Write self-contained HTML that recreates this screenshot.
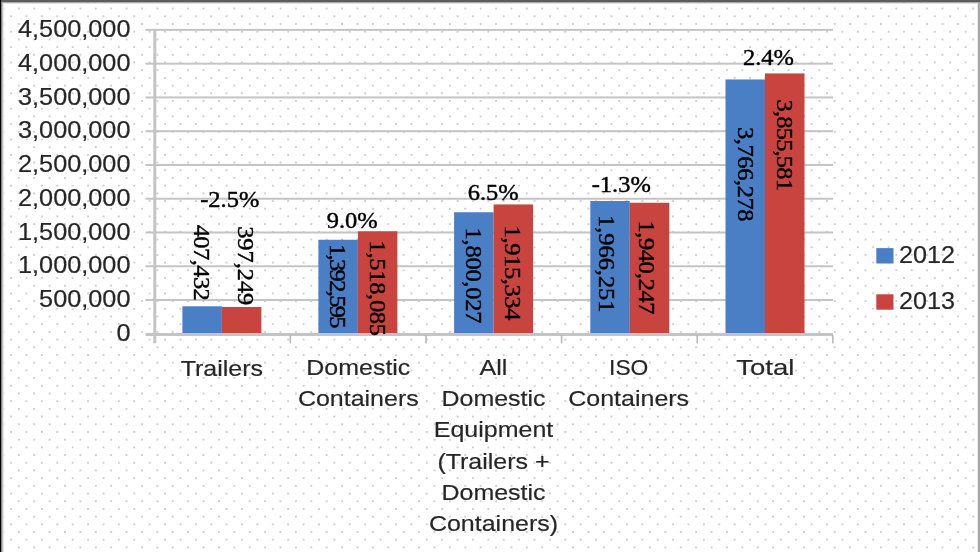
<!DOCTYPE html>
<html><head><meta charset="utf-8"><style>
html,body{margin:0;padding:0;width:980px;height:552px;overflow:hidden;background:#fff;}
svg{position:absolute;left:0;top:0;display:block;will-change:transform;}
</style></head><body>
<svg width="980" height="552" viewBox="0 0 980 552">
<defs><pattern id="dots" patternUnits="userSpaceOnUse" width="15.395" height="15.395" x="3.4" y="8.6">
<rect x="-0.8" y="-0.8" width="1.6" height="1.6" fill="#bababa"/>
<rect x="14.595" y="-0.8" width="1.6" height="1.6" fill="#bababa"/>
<rect x="-0.8" y="14.595" width="1.6" height="1.6" fill="#bababa"/>
<rect x="14.595" y="14.595" width="1.6" height="1.6" fill="#bababa"/>
<rect x="6.897" y="6.897" width="1.6" height="1.6" fill="#bababa"/>
</pattern></defs>
<rect x="0" y="0" width="980" height="552" fill="#fff"/>
<rect x="0" y="0" width="980" height="552" fill="url(#dots)"/>
<rect x="145.5" y="299.03" width="687.5" height="2" fill="#c4c4c4"/>
<rect x="145.5" y="265.27" width="687.5" height="2" fill="#c4c4c4"/>
<rect x="145.5" y="231.50" width="687.5" height="2" fill="#c4c4c4"/>
<rect x="145.5" y="197.73" width="687.5" height="2" fill="#c4c4c4"/>
<rect x="145.5" y="163.97" width="687.5" height="2" fill="#c4c4c4"/>
<rect x="145.5" y="130.20" width="687.5" height="2" fill="#c4c4c4"/>
<rect x="145.5" y="96.43" width="687.5" height="2" fill="#c4c4c4"/>
<rect x="145.5" y="62.67" width="687.5" height="2" fill="#c4c4c4"/>
<rect x="145.5" y="28.90" width="687.5" height="2" fill="#c4c4c4"/>
<text transform="translate(130.5,340.90) scale(1,0.93)" text-anchor="end" font-family='"Liberation Sans", sans-serif' font-size="25.3" fill="#262626" stroke="#262626" stroke-width="0.2">0</text>
<text transform="translate(130.5,307.13) scale(1,0.93)" text-anchor="end" font-family='"Liberation Sans", sans-serif' font-size="25.3" fill="#262626" stroke="#262626" stroke-width="0.2">500,000</text>
<text transform="translate(130.5,273.37) scale(1,0.93)" text-anchor="end" font-family='"Liberation Sans", sans-serif' font-size="25.3" fill="#262626" stroke="#262626" stroke-width="0.2">1,000,000</text>
<text transform="translate(130.5,239.60) scale(1,0.93)" text-anchor="end" font-family='"Liberation Sans", sans-serif' font-size="25.3" fill="#262626" stroke="#262626" stroke-width="0.2">1,500,000</text>
<text transform="translate(130.5,205.83) scale(1,0.93)" text-anchor="end" font-family='"Liberation Sans", sans-serif' font-size="25.3" fill="#262626" stroke="#262626" stroke-width="0.2">2,000,000</text>
<text transform="translate(130.5,172.07) scale(1,0.93)" text-anchor="end" font-family='"Liberation Sans", sans-serif' font-size="25.3" fill="#262626" stroke="#262626" stroke-width="0.2">2,500,000</text>
<text transform="translate(130.5,138.30) scale(1,0.93)" text-anchor="end" font-family='"Liberation Sans", sans-serif' font-size="25.3" fill="#262626" stroke="#262626" stroke-width="0.2">3,000,000</text>
<text transform="translate(130.5,104.53) scale(1,0.93)" text-anchor="end" font-family='"Liberation Sans", sans-serif' font-size="25.3" fill="#262626" stroke="#262626" stroke-width="0.2">3,500,000</text>
<text transform="translate(130.5,70.77) scale(1,0.93)" text-anchor="end" font-family='"Liberation Sans", sans-serif' font-size="25.3" fill="#262626" stroke="#262626" stroke-width="0.2">4,000,000</text>
<text transform="translate(130.5,37.00) scale(1,0.93)" text-anchor="end" font-family='"Liberation Sans", sans-serif' font-size="25.3" fill="#262626" stroke="#262626" stroke-width="0.2">4,500,000</text>
<rect x="182.40" y="306.28" width="39.5" height="27.52" fill="#4a7fc6"/>
<rect x="221.90" y="306.97" width="39.5" height="26.83" fill="#c9443f"/>
<rect x="318.40" y="239.75" width="39.5" height="94.05" fill="#4a7fc6"/>
<rect x="357.90" y="231.28" width="39.5" height="102.52" fill="#c9443f"/>
<rect x="454.10" y="212.24" width="39.5" height="121.56" fill="#4a7fc6"/>
<rect x="493.60" y="204.45" width="39.5" height="129.35" fill="#c9443f"/>
<rect x="590.30" y="201.01" width="39.5" height="132.79" fill="#4a7fc6"/>
<rect x="629.80" y="202.77" width="39.5" height="131.03" fill="#c9443f"/>
<rect x="725.50" y="79.45" width="39.5" height="254.35" fill="#4a7fc6"/>
<rect x="765.00" y="73.42" width="39.5" height="260.38" fill="#c9443f"/>
<rect x="153.3" y="28.9" width="3" height="314.40" fill="#c4c4c4"/>
<rect x="145.5" y="333.0" width="687.5" height="3" fill="#c4c4c4"/>
<rect x="289.54" y="335" width="1.6" height="8.5" fill="#b8b8b8"/>
<rect x="425.18" y="335" width="1.6" height="8.5" fill="#b8b8b8"/>
<rect x="560.82" y="335" width="1.6" height="8.5" fill="#b8b8b8"/>
<rect x="696.46" y="335" width="1.6" height="8.5" fill="#b8b8b8"/>
<rect x="832.10" y="335" width="1.6" height="8.5" fill="#b8b8b8"/>
<text transform="translate(193.75,262.75) rotate(90) scale(1,0.92)" text-anchor="middle" textLength="76.10" lengthAdjust="spacing" font-family='"Liberation Serif", serif' font-size="24.5" fill="#000" stroke="#000" stroke-width="0.45">407,432</text>
<text transform="translate(238.05,265.75) rotate(90) scale(1,0.92)" text-anchor="middle" textLength="79.10" lengthAdjust="spacing" font-family='"Liberation Serif", serif' font-size="24.5" fill="#000" stroke="#000" stroke-width="0.45">397,249</text>
<text transform="translate(329.75,286.25) rotate(90) scale(1,0.92)" text-anchor="middle" textLength="84.50" lengthAdjust="spacing" font-family='"Liberation Serif", serif' font-size="24.5" fill="#000" stroke="#000" stroke-width="0.45">1,392,595</text>
<text transform="translate(369.95,288.25) rotate(90) scale(1,0.92)" text-anchor="middle" textLength="95.50" lengthAdjust="spacing" font-family='"Liberation Serif", serif' font-size="24.5" fill="#000" stroke="#000" stroke-width="0.45">1,518,085</text>
<text transform="translate(466.45,275.50) rotate(90) scale(1,0.92)" text-anchor="middle" textLength="96.00" lengthAdjust="spacing" font-family='"Liberation Serif", serif' font-size="24.5" fill="#000" stroke="#000" stroke-width="0.45">1,800,027</text>
<text transform="translate(505.35,273.00) rotate(90) scale(1,0.92)" text-anchor="middle" textLength="95.00" lengthAdjust="spacing" font-family='"Liberation Serif", serif' font-size="24.5" fill="#000" stroke="#000" stroke-width="0.45">1,915,334</text>
<text transform="translate(599.35,263.75) rotate(90) scale(1,0.92)" text-anchor="middle" textLength="97.50" lengthAdjust="spacing" font-family='"Liberation Serif", serif' font-size="24.5" fill="#000" stroke="#000" stroke-width="0.45">1,966,251</text>
<text transform="translate(639.25,267.50) rotate(90) scale(1,0.92)" text-anchor="middle" textLength="94.00" lengthAdjust="spacing" font-family='"Liberation Serif", serif' font-size="24.5" fill="#000" stroke="#000" stroke-width="0.45">1,940,247</text>
<text transform="translate(737.95,174.25) rotate(90) scale(1,0.92)" text-anchor="middle" textLength="94.50" lengthAdjust="spacing" font-family='"Liberation Serif", serif' font-size="24.5" fill="#000" stroke="#000" stroke-width="0.45">3,766,278</text>
<text transform="translate(776.85,145.25) rotate(90) scale(1,0.92)" text-anchor="middle" textLength="91.50" lengthAdjust="spacing" font-family='"Liberation Serif", serif' font-size="24.5" fill="#000" stroke="#000" stroke-width="0.45">3,855,581</text>
<text transform="translate(229.75,206.9) scale(1,0.92)" text-anchor="middle" font-family='"Liberation Serif", serif' font-size="24.5" fill="#000" stroke="#000" stroke-width="0.45">-2.5%</text>
<text transform="translate(352.25,228.0) scale(1,0.92)" text-anchor="middle" font-family='"Liberation Serif", serif' font-size="24.5" fill="#000" stroke="#000" stroke-width="0.45">9.0%</text>
<text transform="translate(493.15,199.9) scale(1,0.92)" text-anchor="middle" font-family='"Liberation Serif", serif' font-size="24.5" fill="#000" stroke="#000" stroke-width="0.45">6.5%</text>
<text transform="translate(621.25,191.8) scale(1,0.92)" text-anchor="middle" font-family='"Liberation Serif", serif' font-size="24.5" fill="#000" stroke="#000" stroke-width="0.45">-1.3%</text>
<text transform="translate(768.5,65.3) scale(1,0.92)" text-anchor="middle" font-family='"Liberation Serif", serif' font-size="24.5" fill="#000" stroke="#000" stroke-width="0.45">2.4%</text>
<text transform="translate(221.9,376.00) scale(1,0.9)" text-anchor="middle" font-family='"Liberation Sans", sans-serif' font-size="25.0" fill="#262626" stroke="#262626" stroke-width="0.2">Trailers</text>
<text transform="translate(358.3,375.00) scale(1,0.9)" text-anchor="middle" font-family='"Liberation Sans", sans-serif' font-size="25.0" fill="#262626" stroke="#262626" stroke-width="0.2">Domestic</text>
<text transform="translate(358.3,406.20) scale(1,0.9)" text-anchor="middle" font-family='"Liberation Sans", sans-serif' font-size="25.0" fill="#262626" stroke="#262626" stroke-width="0.2">Containers</text>
<text transform="translate(493.5,375.00) scale(1,0.9)" text-anchor="middle" font-family='"Liberation Sans", sans-serif' font-size="25.0" fill="#262626" stroke="#262626" stroke-width="0.2">All</text>
<text transform="translate(493.5,406.20) scale(1,0.9)" text-anchor="middle" font-family='"Liberation Sans", sans-serif' font-size="25.0" fill="#262626" stroke="#262626" stroke-width="0.2">Domestic</text>
<text transform="translate(493.5,437.40) scale(1,0.9)" text-anchor="middle" font-family='"Liberation Sans", sans-serif' font-size="25.0" fill="#262626" stroke="#262626" stroke-width="0.2">Equipment</text>
<text transform="translate(493.5,468.60) scale(1,0.9)" text-anchor="middle" font-family='"Liberation Sans", sans-serif' font-size="25.0" fill="#262626" stroke="#262626" stroke-width="0.2">(Trailers +</text>
<text transform="translate(493.5,499.80) scale(1,0.9)" text-anchor="middle" font-family='"Liberation Sans", sans-serif' font-size="25.0" fill="#262626" stroke="#262626" stroke-width="0.2">Domestic</text>
<text transform="translate(493.5,531.00) scale(1,0.9)" text-anchor="middle" font-family='"Liberation Sans", sans-serif' font-size="25.0" fill="#262626" stroke="#262626" stroke-width="0.2">Containers)</text>
<text transform="translate(628.7,375.00) scale(1,0.9)" text-anchor="middle" textLength="39.3" lengthAdjust="spacingAndGlyphs" font-family='"Liberation Sans", sans-serif' font-size="25.0" fill="#262626" stroke="#262626" stroke-width="0.2">ISO</text>
<text transform="translate(628.7,406.20) scale(1,0.9)" text-anchor="middle" font-family='"Liberation Sans", sans-serif' font-size="25.0" fill="#262626" stroke="#262626" stroke-width="0.2">Containers</text>
<text transform="translate(765.35,375.00) scale(1,0.9)" text-anchor="middle" textLength="58.1" lengthAdjust="spacingAndGlyphs" font-family='"Liberation Sans", sans-serif' font-size="25.0" fill="#262626" stroke="#262626" stroke-width="0.2">Total</text>
<rect x="876.3" y="248.1" width="17.2" height="15.4" fill="#4a7fc6"/>
<rect x="876.3" y="294.3" width="17.2" height="15.4" fill="#c9443f"/>
<text transform="translate(899,262.5) scale(1,0.92)" textLength="56" lengthAdjust="spacingAndGlyphs" font-family='"Liberation Sans", sans-serif' font-size="25.3" fill="#262626" stroke="#262626" stroke-width="0.2">2012</text>
<text transform="translate(899,308.5) scale(1,0.92)" textLength="56" lengthAdjust="spacingAndGlyphs" font-family='"Liberation Sans", sans-serif' font-size="25.3" fill="#262626" stroke="#262626" stroke-width="0.2">2013</text>
<rect x="0" y="0" width="980" height="2" fill="#5c5c5c"/>
<rect x="0" y="2" width="980" height="1" fill="#a8a8a8"/>
<rect x="0" y="3" width="980" height="1" fill="#e4e4e4"/>
<rect x="0" y="0" width="1" height="552" fill="#000"/>
<rect x="1" y="2" width="1" height="550" fill="#858585"/>
<rect x="2" y="3" width="1" height="549" fill="#bdbdbd"/>
<rect x="3" y="3" width="1" height="549" fill="#e6e6e6"/>
<rect x="978" y="3" width="2" height="549" fill="#a6a6a6"/>
<rect x="977" y="3" width="1" height="549" fill="#e8e8e8"/>
</svg>
</body></html>
